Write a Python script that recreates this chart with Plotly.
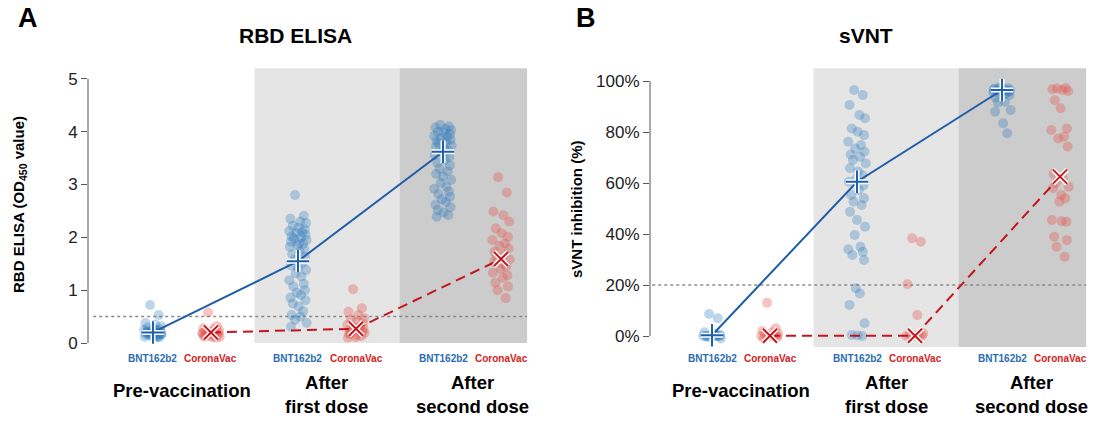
import plotly.graph_objects as go

# ---------------- data ----------------
positions = {"pre_bnt": 0.0, "pre_cv": 1.0, "first_bnt": 2.5, "first_cv": 3.5,
             "second_bnt": 5.0, "second_cv": 6.0}
vaccines = ["BNT162b2", "CoronaVac"]
stages = ["Pre-vaccination", "After<br>first dose", "After<br>second dose"]

elisa_ticks = [0, 1, 2, 3, 4, 5]
svnt_ticks = [0, 20, 40, 60, 80, 100]
svnt_tick_labels = ["0%", "20%", "40%", "60%", "80%", "100%"]

elisa_pre_bnt = [0.72, 0.53, 0.38, 0.35, 0.32, 0.30, 0.28, 0.26, 0.25, 0.24, 0.22, 0.21, 0.20,
                 0.19, 0.18, 0.17, 0.16, 0.15, 0.14, 0.13, 0.12, 0.11, 0.10, 0.22, 0.18,
                 0.15, 0.12, 0.20, 0.25, 0.16]
elisa_pre_cv = [0.58, 0.32, 0.28, 0.26, 0.24, 0.22, 0.21, 0.20, 0.19, 0.18, 0.17, 0.16,
                0.15, 0.14, 0.13, 0.12, 0.12, 0.11, 0.10, 0.20, 0.18]
elisa_first_bnt = [2.80, 2.41, 2.35, 2.30, 2.27, 2.22, 2.18, 2.15, 2.12, 2.10, 2.08, 2.05,
                   2.02, 2.00, 1.98, 1.95, 1.92, 1.90, 1.88, 1.85, 1.82, 1.78, 1.73, 1.68,
                   1.63, 1.58, 1.52, 1.47, 1.42, 1.38, 1.32, 1.26, 1.19, 1.12, 1.07, 1.00,
                   0.95, 0.91, 0.86, 0.81, 0.75, 0.69, 0.60, 0.53, 0.50, 0.44, 0.38, 0.31]
elisa_first_cv = [1.02, 0.66, 0.59, 0.53, 0.47, 0.44, 0.40, 0.37, 0.34, 0.31, 0.29, 0.27,
                  0.25, 0.23, 0.21, 0.19, 0.17, 0.15, 0.13, 0.11, 0.10, 0.22, 0.28, 0.18]
elisa_second_bnt = [4.13, 4.10, 4.08, 4.05, 4.03, 4.00, 3.98, 3.95, 3.92, 3.90, 3.88, 3.85,
                    3.82, 3.80, 3.77, 3.74, 3.72, 3.68, 3.64, 3.60, 3.56, 3.52, 3.47, 3.41,
                    3.36, 3.30, 3.25, 3.20, 3.15, 3.09, 3.03, 2.96, 2.92, 2.87, 2.82, 2.77,
                    2.72, 2.67, 2.62, 2.57, 2.52, 2.47, 2.42, 2.39]
elisa_second_cv = [3.14, 2.85, 2.49, 2.42, 2.30, 2.17, 2.08, 2.01, 1.95, 1.89, 1.84, 1.79,
                   1.73, 1.68, 1.63, 1.58, 1.54, 1.50, 1.45, 1.40, 1.33, 1.28, 1.23, 1.14,
                   1.07, 1.00, 0.85]
elisa_mean_bnt = [0.20, 1.55, 3.62]
elisa_mean_cv = [0.20, 0.27, 1.59]
elisa_cutoff = 0.5

svnt_pre_bnt = [8.6, 7.0, 1.5, 1.0, 0.5, 0.0, 0.0, 0.0, 0.0, 0.0, 0.0, 0.0, 0.0, 0.0, -0.5, -1.0]
svnt_pre_cv = [13.0, 3.0, 2.0, 1.5, 1.0, 0.5, 0.0, 0.0, 0.0, 0.0, 0.0, -0.5, -1.0, 0.0]
svnt_first_bnt = [96.5, 94.5, 90.6, 86.7, 85.4, 81.4, 80.1, 78.8, 76.2, 74.9, 73.5, 72.3,
                  71.2, 70.3, 69.0, 67.7, 65.8, 64.5, 63.1, 61.8, 60.5, 59.0, 57.3, 55.3,
                  54.0, 52.7, 51.4, 48.7, 45.5, 42.9, 39.6, 35.0, 34.0, 33.0, 31.8, 29.8,
                  18.7, 16.7, 12.2, 5.0, 0.4, 0.2, 0.0]
svnt_first_cv = [38.3, 37.0, 20.3, 8.2, 1.0, 0.5, 0.2, 0.0, 0.0, 0.0, 0.0]
svnt_second_bnt = [97.5, 97.2, 97.0, 96.8, 96.5, 96.3, 96.0, 95.8, 95.5, 95.2, 95.0, 94.5,
                   93.5, 91.9, 91.5, 88.6, 88.0, 83.4, 79.5, 97.3, 96.6, 96.1]
svnt_second_cv = [97.1, 97.3, 96.8, 96.5, 96.0, 92.5, 89.3, 81.4, 80.8, 78.2, 77.5, 74.3,
                  63.5, 61.8, 60.0, 58.5, 58.0, 55.3, 54.0, 52.7, 45.5, 44.8, 45.0, 38.9,
                  37.6, 35.0, 31.1]
svnt_mean_bnt = [0.3, 60.5, 96.5]
svnt_mean_cv = [0.1, 0.1, 62.5]
svnt_cutoff = 20

# horizontal jitter pattern (x offsets, in category units)
JITTER = [-0.05, 0.10, -0.13, 0.04, 0.14, -0.09, 0.01, 0.12, -0.15, 0.07, -0.03, 0.13,
          -0.11, 0.05, -0.07, 0.15, -0.12, 0.02, 0.09, -0.01, -0.14, 0.11, 0.03, -0.10,
          0.12, -0.06, 0.08, -0.12, 0.00, 0.14, -0.04, 0.06, -0.15, 0.10, -0.08, 0.12,
          -0.02, 0.05, -0.13, 0.13, -0.09, 0.01, 0.09, -0.11, 0.04, -0.05, 0.15, -0.12]

# ---------------- styles ----------------
FONT = "Liberation Sans, Arial, Helvetica, sans-serif"
BLUE_PT = "rgba(40,120,190,0.30)"
RED_PT = "rgba(230,85,75,0.34)"
BLUE = "#1f5ea8"
RED = "#c3161c"
BLUE_TXT = "#2b6cb3"
RED_TXT = "#d32222"
LIGHT = "#e5e5e5"
DARK = "#cccccc"

fig = go.Figure()

def cloud(vals, pos, color, xa, ya):
    xs = [pos + JITTER[i % len(JITTER)] for i in range(len(vals))]
    fig.add_trace(go.Scatter(x=xs, y=vals, mode="markers", xaxis=xa, yaxis=ya,
                             marker=dict(size=10, color=color, line=dict(width=0)),
                             cliponaxis=False, hoverinfo="y", showlegend=False))

def means(vals, xs, color, dash, symbol, size, xa, ya):
    fig.add_trace(go.Scatter(x=xs, y=vals, mode="lines", xaxis=xa, yaxis=ya,
                             line=dict(color=color, width=2, dash=dash),
                             cliponaxis=False, hoverinfo="skip", showlegend=False))
    fig.add_trace(go.Scatter(x=xs, y=vals, mode="markers", xaxis=xa, yaxis=ya,
                             marker=dict(symbol=symbol, size=size, color="white",
                                         line=dict(width=5, color="white")),
                             cliponaxis=False, hoverinfo="skip", showlegend=False))
    fig.add_trace(go.Scatter(x=xs, y=vals, mode="markers", xaxis=xa, yaxis=ya,
                             marker=dict(symbol=symbol, size=size, color=color,
                                         line=dict(width=2, color=color)),
                             cliponaxis=False, hoverinfo="y", showlegend=False))

bnt_x = [positions["pre_bnt"], positions["first_bnt"], positions["second_bnt"]]
cv_x = [positions["pre_cv"], positions["first_cv"], positions["second_cv"]]

# Panel A
for vals, key, col in [(elisa_pre_bnt, "pre_bnt", BLUE_PT), (elisa_pre_cv, "pre_cv", RED_PT),
                       (elisa_first_bnt, "first_bnt", BLUE_PT), (elisa_first_cv, "first_cv", RED_PT),
                       (elisa_second_bnt, "second_bnt", BLUE_PT), (elisa_second_cv, "second_cv", RED_PT)]:
    cloud(vals, positions[key], col, "x", "y")
means(elisa_mean_bnt, bnt_x, BLUE, "solid", "cross-thin", 16, "x", "y")
means(elisa_mean_cv, cv_x, RED, "10px,6px", "x-thin", 14, "x", "y")

# Panel B
for vals, key, col in [(svnt_pre_bnt, "pre_bnt", BLUE_PT), (svnt_pre_cv, "pre_cv", RED_PT),
                       (svnt_first_bnt, "first_bnt", BLUE_PT), (svnt_first_cv, "first_cv", RED_PT),
                       (svnt_second_bnt, "second_bnt", BLUE_PT), (svnt_second_cv, "second_cv", RED_PT)]:
    cloud(vals, positions[key], col, "x2", "y2")
means(svnt_mean_bnt, bnt_x, BLUE, "solid", "cross-thin", 16, "x2", "y2")
means(svnt_mean_cv, cv_x, RED, "10px,6px", "x-thin", 14, "x2", "y2")

shapes = []
for xr, yr, ylo, yhi, cut, ytop in [("x", "y", 0, 5.2, elisa_cutoff, 5),
                                    ("x2", "y2", -4.3, 105, svnt_cutoff, 100)]:
    shapes.append(dict(type="rect", xref=xr, yref=yr, x0=1.75, x1=4.25, y0=ylo, y1=yhi,
                       fillcolor=LIGHT, line=dict(width=0), layer="below"))
    shapes.append(dict(type="rect", xref=xr, yref=yr, x0=4.25, x1=6.45, y0=ylo, y1=yhi,
                       fillcolor=DARK, line=dict(width=0), layer="below"))
    shapes.append(dict(type="line", xref=xr, yref=yr, x0=-1.03, x1=6.45,
                       y0=cut, y1=cut, line=dict(color="#8a8a8a", width=1.5, dash="dot"),
                       layer="below"))
    shapes.append(dict(type="line", xref=xr + " domain", yref=yr, x0=0, x1=0,
                       y0=0, y1=ytop, line=dict(color="#555555", width=1)))

annotations = []
def ann(text, x, y, xref="paper", size=10, color="black", bold=True, angle=0):
    annotations.append(dict(text=("<b>%s</b>" % text) if bold else text, x=x, y=y,
                            xref=xref, yref="paper", showarrow=False,
                            font=dict(family=FONT, size=size, color=color),
                            xanchor="center", yanchor="middle", textangle=angle))

for xr in ["x", "x2"]:
    for i in range(3):
        ann(vaccines[0], bnt_x[i], 0.149, xref=xr, size=10, color=BLUE_TXT)
        ann(vaccines[1], cv_x[i], 0.149, xref=xr, size=10, color=RED_TXT)
        ymid = 0.073 if i == 0 else 0.062
        ann(stages[i], (bnt_x[i] + cv_x[i]) / 2, ymid, xref=xr, size=18.5)

W, H = 1094, 421
ann("A", 28 / W, 1 - 18 / H, size=27)
ann("B", 586 / W, 1 - 18 / H, size=27)
ann("RBD ELISA", 295 / W, 1 - 35 / H, size=21)
ann("sVNT", 866 / W, 1 - 35 / H, size=21)
ann("RBD ELISA (OD<sub>450</sub> value)", 19 / W, 1 - 205 / H, size=15, angle=-90)
ann("sVNT inhibition (%)", 576 / W, 1 - 210 / H, size=15, angle=-90)

axis_common = dict(showgrid=False, zeroline=False, showline=False)
fig.update_layout(
    width=W, height=H, margin=dict(l=0, r=0, t=0, b=0),
    paper_bgcolor="white", plot_bgcolor="rgba(0,0,0,0)",
    font=dict(family=FONT),
    showlegend=False,
    xaxis=dict(domain=[88 / W, 540 / W], range=[-1.12, 6.672], showticklabels=False,
               ticks="", anchor="y", **axis_common),
    yaxis=dict(domain=[(H - 353.6) / H, (H - 63) / H], range=[-0.2, 5.3], anchor="x",
               tickmode="array", tickvals=elisa_ticks, ticktext=[str(t) for t in elisa_ticks],
               ticks="outside", ticklen=6, tickcolor="#555555",
               tickfont=dict(size=17, color="#222222", family=FONT), **axis_common),
    xaxis2=dict(domain=[650 / W, 1.0], range=[-1.069, 6.586], showticklabels=False,
                ticks="", anchor="y2", **axis_common),
    yaxis2=dict(domain=[(H - 351.3) / H, (H - 63.2) / H], range=[-6, 107], anchor="x2",
                tickmode="array", tickvals=svnt_ticks, ticktext=svnt_tick_labels,
                ticks="outside", ticklen=6, tickcolor="#555555",
                tickfont=dict(size=17, color="#222222", family=FONT), **axis_common),
    shapes=shapes, annotations=annotations,
)

fig.write_html("out.html", config={"displayModeBar": False},
               post_script="document.body.style.margin='0px';")
